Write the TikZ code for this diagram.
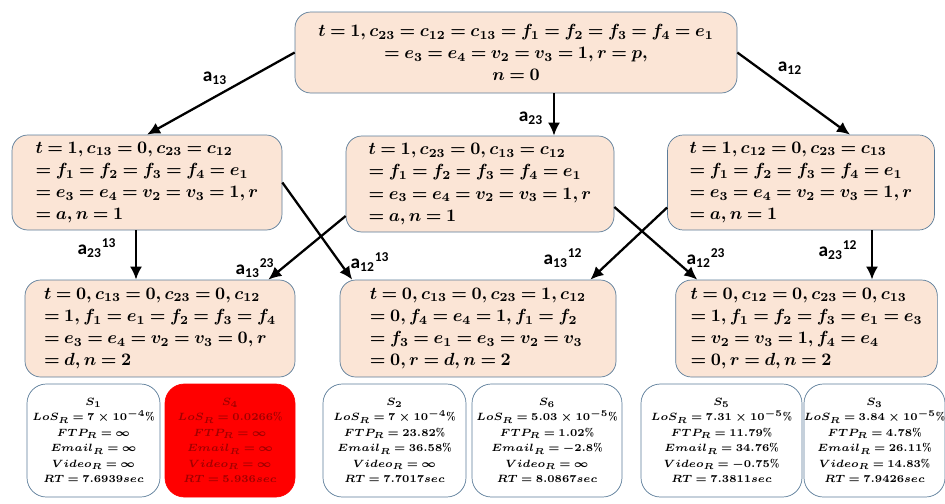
\documentclass[tikz,border=0pt]{standalone}
\usepackage{amsmath}
\usepackage{fontspec}
\newfontfamily\lblfont{Carlito}
\usetikzlibrary{arrows.meta, positioning, calc}
\definecolor{StateFill}{HTML}{FBE5D6}
\definecolor{EdgeBlue}{HTML}{5B7C99}
\definecolor{AlertRed}{HTML}{FF0000}
\definecolor{DarkRed}{HTML}{A00000}
\thickmuskip=4mu plus 2mu
\tikzset{
    state/.style={draw=EdgeBlue, thin, fill=StateFill, rounded corners=9pt, align=left, font=\fontsize{9.6}{12.6}\selectfont\boldmath, inner xsep=0.3cm, inner ysep=0pt},
    result/.style={draw=EdgeBlue, thin, fill=white, rounded corners=11pt, align=center, font=\fontsize{6.3}{8.8}\selectfont\boldmath, minimum height=2.26cm, inner sep=0pt},
    badresult/.style={result, draw=AlertRed, fill=AlertRed, text=DarkRed},
    arr/.style={-{Latex[length=2.6mm, width=2.4mm]}, line width=1.3pt},
    lbl/.style={font=\lblfont\bfseries\fontsize{11}{12}\selectfont, inner sep=1pt}
}

\begin{document}
\begin{tikzpicture}
    \useasboundingbox (0,0) rectangle (18.9,-10.06);

    % Root state
    \node[state, align=center, minimum width=8.84cm, minimum height=1.62cm] (top) at (10.32,-1.05)
        {$t=1, c_{23}=c_{12}=c_{13}=f_1=f_2=f_3=f_4=e_1$\\ $=e_3=e_4=v_2=v_3=1, r=p,$\\ $n=0$};

    % First attack (middle row)
    \node[state, minimum width=5.4cm, minimum height=1.9cm] (midl) at (2.94,-3.65)
        {$t=1, c_{13}=0, c_{23}=c_{12}$\\ $=f_1=f_2=f_3=f_4=e_1$\\ $=e_3=e_4=v_2=v_3=1, r$\\ $=a, n=1$};
    \node[state, minimum width=5.36cm, minimum height=1.92cm] (midc) at (9.6,-3.68)
        {$t=1, c_{23}=0, c_{13}=c_{12}$\\ $=f_1=f_2=f_3=f_4=e_1$\\ $=e_3=e_4=v_2=v_3=1, r$\\ $=a, n=1$};
    \node[state, minimum width=5.34cm, minimum height=1.9cm] (midr) at (16.02,-3.65)
        {$t=1, c_{12}=0, c_{23}=c_{13}$\\ $=f_1=f_2=f_3=f_4=e_1$\\ $=e_3=e_4=v_2=v_3=1, r$\\ $=a, n=1$};

    % Second attack (bottom row)
    \node[state, minimum width=5.4cm, minimum height=1.94cm] (botl) at (3.2,-6.57)
        {$t=0, c_{13}=0, c_{23}=0, c_{12}$\\ $=1, f_1=e_1=f_2=f_3=f_4$\\ $=e_3=e_4=v_2=v_3=0, r$\\ $=d, n=2$};
    \node[state, minimum width=5.52cm, minimum height=1.94cm] (botc) at (9.56,-6.57)
        {$t=0, c_{13}=0, c_{23}=1, c_{12}$\\ $=0, f_4=e_4=1, f_1=f_2$\\ $=f_3=e_1=e_3=v_2=v_3$\\ $=0, r=d, n=2$};
    \node[state, minimum width=5.14cm, minimum height=1.94cm] (botr) at (16.13,-6.57)
        {$t=0, c_{12}=0, c_{23}=0, c_{13}$\\ $=1, f_1=f_2=f_3=e_1=e_3$\\ $=v_2=v_3=1, f_4=e_4$\\ $=0, r=d, n=2$};

    % Outcomes
    \node[result, minimum width=2.66cm] (s1) at (1.87,-8.81)
        {$S_1$\\ $LoS_R=7\times10^{-4}\%$\\ $FTP_R=\infty$\\ $Email_R=\infty$\\ $Video_R=\infty$\\ $RT=7.6939sec$};
    \node[badresult, minimum width=2.6cm] (s4) at (4.6,-8.81)
        {$S_4$\\ $LoS_R=0.0266\%$\\ $FTP_R=\infty$\\ $Email_R=\infty$\\ $Video_R=\infty$\\ $RT=5.936sec$};
    \node[result, minimum width=2.86cm] (s2) at (7.89,-8.81)
        {$S_2$\\ $LoS_R=7\times10^{-4}\%$\\ $FTP_R=23.82\%$\\ $Email_R=36.58\%$\\ $Video_R=\infty$\\ $RT=7.7017sec$};
    \node[result, minimum width=3.0cm] (s6) at (10.94,-8.81)
        {$S_6$\\ $LoS_R=5.03\times10^{-5}\%$\\ $FTP_R=1.02\%$\\ $Email_R=-2.8\%$\\ $Video_R=\infty$\\ $RT=8.0867sec$};
    \node[result, minimum width=3.22cm] (s5) at (14.43,-8.81)
        {$S_5$\\ $LoS_R=7.31\times10^{-5}\%$\\ $FTP_R=11.79\%$\\ $Email_R=34.76\%$\\ $Video_R=-0.75\%$\\ $RT=7.3811sec$};
    \node[result, minimum width=2.74cm] (s3) at (17.49,-8.81)
        {$S_3$\\ $LoS_R=3.84\times10^{-5}\%$\\ $FTP_R=4.78\%$\\ $Email_R=26.11\%$\\ $Video_R=14.83\%$\\ $RT=7.9426sec$};

    % Transitions
    \draw[arr] (top.west) -- (midl.north);
    \draw[arr] ([xshift=0.76cm]top.south) -- ([xshift=0.76cm]top.south |- midc.north);
    \draw[arr] (top.east) -- ([xshift=0.98cm]midr.north);
    \draw[arr] ([xshift=-0.22cm]midl.south) -- ([xshift=-0.22cm]midl.south |- botl.north);
    \draw[arr] (midl.east) -- ([xshift=0.25cm]botc.north west);
    \draw[arr] ([yshift=-0.64cm]midc.west) -- ([xshift=-0.54cm]botl.north east);
    \draw[arr] ([yshift=-0.46cm]midc.east) -- ([xshift=0.44cm]botr.north west);
    \draw[arr] ([yshift=-0.5cm]midr.west) -- ([xshift=-0.52cm]botc.north east);
    \draw[arr] ([xshift=1.42cm]midr.south) -- ([xshift=1.42cm]midr.south |- botr.north);

    % Attack labels
    \node[lbl] (la13) at (4.3,-1.56) {a\textsubscript{13}};
    \node[lbl] (la23) at (10.62,-2.36) {a\textsubscript{23}};
    \node[lbl] (la12) at (15.8,-1.36) {a\textsubscript{12}};
    \node[lbl] (lb2313) at (1.94,-4.96) {a\textsubscript{23}\textsuperscript{13}};
    \node[lbl] (lb1323) at (5.1,-5.36) {a\textsubscript{13}\textsuperscript{23}};
    \node[lbl] (lb1213) at (7.4,-5.24) {a\textsubscript{12}\textsuperscript{13}};
    \node[lbl] (lb1312) at (11.26,-5.16) {a\textsubscript{13}\textsuperscript{12}};
    \node[lbl] (lb1223) at (14.12,-5.16) {a\textsubscript{12}\textsuperscript{23}};
    \node[lbl] (lb2312) at (16.76,-5.0) {a\textsubscript{23}\textsuperscript{12}};
\end{tikzpicture}
\end{document}
